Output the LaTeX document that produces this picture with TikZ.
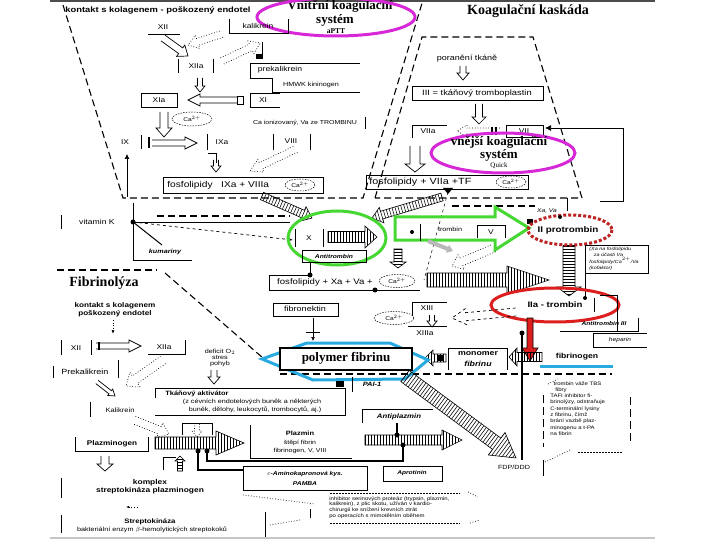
\documentclass[tikz,border=0pt]{standalone}
\usepackage{fontspec}
\setmainfont{Liberation Sans}[FakeStretch=1.2]
\newfontfamily\srf{Liberation Serif}
\usetikzlibrary{shapes.geometric,arrows.meta}
\definecolor{mag}{RGB}{215,40,215}
\definecolor{grn}{RGB}{70,215,50}
\definecolor{drd}{RGB}{190,35,35}
\definecolor{rd}{RGB}{220,30,30}
\definecolor{cy}{RGB}{40,170,225}
\newcommand\myfs[1]{\fontsize{#1}{#1}\selectfont}
% hollow arrow: [opts]{x1}{y1}{x2}{y2}{body width}{head length}
\newcommand\HA[7][]{%
 \pgfmathsetmacro\hlen{veclen(#4-#2,#5-#3)}%
 \pgfmathsetmacro\hang{atan2(#3-#5,#4-#2)}%
 \pgfmathsetmacro\hb{\hlen-#7}%
 \pgfmathsetmacro\hw{#6/2}%
 \draw[line width=0.7pt,#1,shift={(#2,#3)},rotate=\hang] (0,-\hw) -- (\hb,-\hw) -- (\hb,-#6) -- (\hlen,0) -- (\hb,#6) -- (\hb,\hw) -- (0,\hw);}
% hatched arrow
\newcommand\HH[7][]{%
 \pgfmathsetmacro\hlen{veclen(#4-#2,#5-#3)}%
 \pgfmathsetmacro\hang{atan2(#3-#5,#4-#2)}%
 \pgfmathsetmacro\hb{\hlen-#7}%
 \pgfmathsetmacro\hw{#6/2}%
 \begin{scope}[shift={(#2,#3)},rotate=\hang]
 \clip (0,-\hw) -- (\hb,-\hw) -- (\hb,-#6) -- (\hlen,0) -- (\hb,#6) -- (\hb,\hw) -- (0,\hw) -- cycle;
 \foreach \i in {0,3,...,\hlen} {\draw[line width=0.55pt] (\i,-#6) -- (\i,#6);}
 \end{scope}
 \draw[line width=0.6pt,#1,shift={(#2,#3)},rotate=\hang] (0,-\hw) -- (\hb,-\hw) -- (\hb,-#6) -- (\hlen,0) -- (\hb,#6) -- (\hb,\hw) -- (0,\hw) -- cycle;}
\begin{document}
\begin{tikzpicture}[x=1pt,y=-1pt,line width=0.7pt,
  t/.style={inner sep=0pt,font=\myfs{7}},
  tb/.style={inner sep=0pt,font=\myfs{7}\bfseries},
  ti/.style={inner sep=0pt,font=\myfs{6.5}\bfseries\itshape},
  ts/.style={inner sep=0pt,font=\fontsize{5}{6.3}\selectfont,align=left},
  big/.style={inner sep=0pt,font=\srf\myfs{13}\bfseries},
  ce/.style={ellipse,draw,dash pattern=on 1.5pt off 1.2pt,line width=0.5pt,inner sep=0pt,font=\myfs{5.5}},
  dsh/.style={line width=1.1pt,dash pattern=on 7pt off 4pt},
  dot/.style={circle,fill,inner sep=0pt,minimum size=5pt}]
\useasboundingbox (0,0) rectangle (720,540);
\draw[gray!60!black,line width=1.5pt] (50,0.8) -- (655,0.8);
\draw[gray!45,line width=1.5pt] (50,538) -- (655,538);

% ---------- dashed frames
\draw[dsh] (63,5) -- (123,198) -- (363,198) -- (423,0);
\draw[dsh] (375,198) -- (422,37) -- (533,37) -- (582,198) -- cycle;
\draw[dsh] (157,216) -- (290,216);
\draw[dsh] (452,206) -- (535,206);
\draw[dsh] (57,270) -- (157,270);
\draw[dsh] (165,273) -- (263,358);
\draw[dsh] (280,374) -- (612,374);

% ---------- intrinsic system
\node[tb,font=\myfs{7.8}\bfseries] (kont) at (158,10) {kontakt s kolagenem - poškozený endotel};
\node[big] (vks1) at (340,6) {Vnitřní koagulační};
\node[big] (vks2) at (335,20) {systém};
\node[tb,font=\srf\myfs{7.5}\bfseries] (aptt) at (336,31) {aPTT};
\draw[mag,line width=3pt] (336,17) ellipse [x radius=79,y radius=19];
\node[big,font=\srf\myfs{14}\bfseries] (kk) at (528,11) {Koagulační kaskáda};

\node[t] (xii) at (163,27) {XII};
\draw (148,34) -- (180,34);
\node[t] (kal) at (258,26) {kalikrein};
\draw (229,19) -- (229,33) -- (288,33) -- (288,19);
\HA{163}{38}{188}{56}{7}{9}
\HA[dotted]{222}{34}{188}{45}{7}{10}
\HA[dotted]{222}{61}{260}{43}{7}{10}
\draw[line width=1pt] (262,42) -- (262,56);
\fill (256,54) rectangle (263,59);
\node[t] (xiia) at (196,66) {XIIa};
\draw (178,59) -- (178,73) (213,59) -- (213,73);
\node[t,font=\myfs{7.2}] (prek) at (280,70) {prekalikrein};
\draw (360,63) -- (250,63) -- (250,78) -- (272,78) -- (272,92) -- (360,92);
\node[t,font=\myfs{6}] (hmwk) at (311,85) {HMWK kininogen};
\node[t] (xi) at (263,100) {XI};
\draw (280,93) -- (250,93) -- (250,107) -- (280,107);
\draw (141,93) rectangle (177,107);
\node[t] (xia) at (159,100) {XIa};
\HA{237}{100}{188}{100}{6}{12}
\draw (237,96) rectangle (243,104);
\HA{200}{78}{200}{92}{5}{6}
\HA{164}{112}{164}{137}{8}{9}
\node[ce,minimum width=40pt,minimum height=14pt] (ca1) at (192,119) {Ca$^{2+}$};
\node[t,font=\myfs{5.8}] (caion) at (305,123) {Ca ionizovaný, Va ze TROMBINU};
\draw (365,117) -- (365,129);
\node[t] (ix) at (125,142) {IX};
\draw (141,135) -- (141,149);
\draw[line width=2pt] (149,137) -- (149,148);
\HA{152}{143}{197}{143}{6}{12}
\node[t] (ixa) at (222,142) {IXa};
\draw (207,134) -- (207,150) (273,134) -- (273,150);
\node[t] (viii) at (291,141) {VIII};
\draw (310,134) -- (310,150);
\HA[dotted]{296}{149}{250}{171}{7}{12}
\draw (208,153) -- (216,153) -- (216,163);
\HA{216}{160}{216}{172}{5}{6}
\draw[-{Latex[length=5pt,width=5pt]}] (127,197) -- (127,154);
\draw (163,177) rectangle (323,193);
\node[t,font=\myfs{8.5},anchor=west] (fos1) at (167,185) {fosfolipidy \ \ IXa + VIIIa};
\node[ce,minimum width=30pt,minimum height=12pt] (ca2) at (300,185) {Ca$^{2+}$};

% ---------- extrinsic system
\node[t,font=\myfs{7.5}] (por) at (467,59) {poranění tkáně};
\HA{463}{66}{463}{80}{6}{7}
\draw (412,86) rectangle (543,100);
\node[t,font=\myfs{7.8}] (iii) at (477,93) {III = tkáňový tromboplastin};
\HA{479}{104}{479}{124}{7}{7}
\node[t] (viia) at (428,131) {VIIa};
\draw (447,125) -- (412,125) -- (412,138);
\draw (506,125) rectangle (543,137);
\node[t] (vii) at (524,131) {VII};
\HA[dotted]{500}{131}{457}{131}{6}{10}
\draw[line width=1.2pt] (492,127) -- (492,135) (496,127) -- (496,135);
\draw[-{Latex[length=6pt,width=6pt]}] (600,201) -- (623,201) -- (623,128) -- (545,128);
\HA{415}{146}{415}{172}{10}{8}
\draw (366,175) rectangle (528,189);
\node[t,font=\myfs{9},anchor=west] (fos2) at (369,182) {fosfolipidy + VIIa +TF};
\node[ce,minimum width=30pt,minimum height=12pt] (ca3) at (511,182) {Ca$^{2+}$};
\fill (443,188) -- (453,188) -- (448,194) -- cycle;
\draw[mag,line width=3pt] (503,153) ellipse [x radius=72,y radius=20];
\node[big] (vns1) at (499,142) {vnější koagulační};
\node[big] (vns2) at (499,155) {systém};
\node[t,font=\srf\myfs{7}] (quick) at (499,166) {Quick};

% ---------- common pathway
\node[t,font=\myfs{7.2}] (vitk) at (97,222) {vitamin K};
\draw (61,215) -- (61,229);
\draw (133,203) -- (133,260) -- (192,260);
\draw (133,222) -- (290,222);
\draw[dashed,-{Latex[length=5pt]}] (133,222) -- (293,240);
\draw[line width=1pt] (133,222) -- (162,245);
\node[dot] (dk) at (133,222) {};
\node[ti,font=\myfs{6}\bfseries\itshape] (kum) at (165,252) {kumariny};
\HH{262}{196}{312}{218}{8}{10}
\HH{442}{197}{372}{218}{8}{10}
\node[t,font=\myfs{7}] (x) at (309,238) {X};
\draw (295,229) -- (295,247) (323,229) -- (323,247);
\HH{328}{237}{377}{237}{11}{12}
\draw[grn,line width=3pt] (337,238) ellipse [x radius=49,y radius=27];
\draw (302,250) rectangle (366,262);
\node[ti,font=\myfs{5.6}\bfseries\itshape] (at1) at (334,256) {Antitrombin};
\draw (310,262) -- (310,275);
\node[dot] (d2) at (310,275) {};
\draw (310,275) -- (269,275) -- (269,290) -- (420,290);
\node[t,font=\myfs{8}] (fos3) at (325,282) {fosfolipidy + Xa + Va +};
\node[ce,minimum width=36pt,minimum height=13pt] (ca4) at (397,281) {Ca$^{2+}$};
\node[dot] (d3) at (375,290) {};
\HH{398}{249}{398}{268}{8}{6}
\draw[dashed,line width=0.5pt] (448,192) -- (424,280);
\draw[grn,line width=3pt] (395,217) -- (495,217) -- (495,207) -- (529,228) -- (495,250) -- (495,240) -- (395,240) -- cycle;
\node[dot,minimum size=4pt] (d4) at (412,232) {};
\draw (420,224) -- (420,241);
\node[t,font=\myfs{6}] (trb) at (450,229) {trombin};
\draw (477,225) -- (477,238) (477,225) -- (505,225) -- (505,238);
\node[t,font=\myfs{7}] (v) at (491,232) {V};
\draw[gray!55,line width=4pt,-{Triangle[length=6pt,width=8pt]}] (428,241) -- (453,251);
\HA[dotted]{494}{248}{452}{266}{8}{10}

\node[ts,font=\itshape\fontsize{5.5}{6}\selectfont] (xava) at (547,211) {Xa, Va};
\draw (567,198) -- (567,211);
\fill (527,219) rectangle (533,224);
\HH{569}{246}{569}{296}{12}{9}
\draw[line width=2pt] (563,246) -- (575,246);
\draw[drd,line width=3pt,dash pattern=on 3pt off 2pt] (570,230) ellipse [x radius=42,y radius=15];
\node[tb,font=\myfs{8.2}\bfseries] (ii) at (568,230) {II protrombin};
\node[dot,minimum size=4pt] (d5) at (560,217) {};
\draw (585,245) -- (648,245) -- (648,273) -- (585,273);
\draw (585,245) -- (585,298);
\node[ts,font=\itshape\fontsize{4.5}{6.2}\selectfont,anchor=north west] (pt) at (589,247) {(Xa na fosfolipidu\\\ \ \ za účasti Va\\fosfolipidy/Ca$^{2+}$/Va\\(kofaktor)};
\HH{427}{280}{549}{280}{14}{42}
\draw[rd,line width=3pt] (555,305) ellipse [x radius=64,y radius=17];
\node[tb,font=\myfs{8}\bfseries] (iia) at (555,305) {IIa - trombin};
\node[dot,minimum size=4pt] (d6) at (585,298) {};
\draw (594,298) -- (594,312);
\draw (600,295) -- (617,295) -- (617,331);
\draw (560,331) -- (638,331) -- (638,318);
\node[ti,font=\myfs{5.5}\bfseries\itshape] (at3) at (604,324) {Antitrombin III};
\draw (593,347) -- (593,333) -- (647,333) (593,347) -- (647,347);
\node[ti,font=\myfs{5.5}\itshape] (hep) at (620,340) {heparin};
\draw[line width=1.5pt] (522,332) -- (522,460);
\node[dot] (d7) at (522,333) {};
\draw[fill=rd,line width=0.6pt] (527,318) -- (533,318) -- (533,348) -- (538,348) -- (530,361) -- (522,348) -- (527,348) -- cycle;
\node[tb,font=\myfs{7.2}\bfseries] (fbg) at (577,357) {fibrinogen};
\draw[cy,line width=3pt] (540,366) -- (613,366);
\HH{542}{357}{509}{357}{9}{8}

\node[t] (xiii) at (427,308) {XIII};
\draw (412,302) -- (447,302) (412,302) -- (412,316);
\HA{432}{315}{432}{327}{5}{6}
\draw (408,326) -- (447,326);
\node[t] (xiiia) at (425,333) {XIIIa};
\node[ce,minimum width=40pt,minimum height=13pt] (ca5) at (394,318) {Ca$^{2+}$};
\HA[dashed]{516}{312}{452}{318}{8}{14}
\draw (273,303) rectangle (338,316);
\node[t,font=\myfs{7.5}] (fbn) at (305,309) {fibronektin};
\draw (313,318) -- (313,332);
\draw[-{Latex[length=4pt,width=4pt]}] (306,332) -- (320,332) (313,332) -- (313,341);

\draw (448,370) -- (448,348) -- (507,348) -- (507,370);
\node[tb,font=\myfs{7.3}\bfseries] (mon1) at (478,354) {monomer};
\node[ti,font=\myfs{7.3}\bfseries\itshape] (mon2) at (478,364) {fibrinu};
\HH{446}{358}{425}{358}{8}{8}
\fill (437,355) rectangle (443,361);

\draw[cy,line width=3pt] (262,359) -- (307,343) -- (390,343) -- (428,360) -- (405,379) -- (313,380) -- cycle;
\draw[line width=1.2pt,fill=white] (280,348) rectangle (412,370);
\node[big] (poly) at (346,358) {polymer fibrinu};

% ---------- fibrinolysis
\node[big,font=\srf\myfs{14}\bfseries] (fl) at (104,283) {Fibrinolýza};
\node[tb,font=\myfs{6.8}\bfseries] (k2a) at (115,306) {kontakt s kolagenem};
\node[tb,font=\myfs{6.8}\bfseries] (k2b) at (115,314) {poškozený endotel};
\draw[dotted,-{Latex[length=4pt]}] (113,320) -- (113,334);
\node[t] (xii2) at (76,348) {XII};
\draw (61,340) -- (61,355) (91,340) -- (91,355);
\HA{96}{346}{141}{346}{6}{12}
\draw[line width=1.5pt] (99,342) -- (99,350);
\node[t] (xiia2) at (164,347) {XIIa};
\draw (148,354) -- (185,354) (185,340) -- (185,355);
\node[t,font=\myfs{6}] (def) at (220,358) {\begin{tabular}{@{}c@{}}deficit O$_2$\\stres\\pohyb\end{tabular}};
\HA{214}{370}{214}{384}{6}{7}
\node[t,font=\myfs{7.5}] (prk2) at (85,372) {Prekalikrein};
\draw (53,366) -- (53,378) (118,360) -- (118,378);
\HA[dotted]{163}{360}{126}{386}{9}{11}
\HA{97}{382}{115}{396}{4}{6}
\node[t,font=\myfs{6.3}] (kal2) at (120,410) {Kalikrein};
\draw (90,402) -- (90,417);
\HA[dotted]{134}{420}{169}{434}{8}{10}
\draw (155,388) -- (345,388) -- (345,415) -- (155,415) (155,388) -- (155,398);
\node[tb,font=\myfs{6.2}\bfseries,anchor=west] (tpa) at (165,394) {Tkáňový aktivátor};
\node[t,font=\myfs{6}] (tpa2) at (252,402) {(z cévních endotelových buněk a některých};
\node[t,font=\myfs{6}] (tpa3) at (255,410) {buněk, dělohy, leukocytů, trombocytů, aj.)};
\draw (75,437) -- (75,451) -- (148,451) -- (148,437);
\node[tb,font=\myfs{6.8}\bfseries] (plg) at (112,444) {Plazminogen};
\HA{105}{456}{105}{471}{8}{7}
\HH{155}{443}{244}{443}{12}{28}
\draw (182,435) -- (182,423) -- (212,423) -- (212,435);
\HA[dotted]{197}{424}{197}{437}{5}{6}
\draw (163,470) -- (163,457) -- (176,457);
\HH{180}{471}{180}{456}{5}{5}
\draw[line width=1.4pt] (198,451) -- (198,470) -- (243,470);
\draw[line width=1.4pt] (207,451) -- (207,461) -- (403,461) -- (403,445);
\node[dot] (d8) at (198,451) {};
\node[dot] (d9) at (207,451) {};
\draw (250,425) -- (250,458) -- (352,458);
\node[tb,font=\myfs{6.2}\bfseries] (pla) at (300,433) {Plazmin};
\node[t,font=\myfs{5.8}] (pla2) at (300,443) {štěpí fibrin};
\node[t,font=\myfs{5.8}] (pla3) at (300,451) {fibrinogen, V, VIII};
\draw (243,466) rectangle (367,490);
\node[ti,font=\myfs{5.6}\bfseries\itshape] (eak) at (305,474) {$\varepsilon$-Aminokapronová kys.};
\node[ti,font=\myfs{5.6}\bfseries\itshape] (pamba) at (305,484) {PAMBA};
\draw (362,423) -- (362,409) -- (433,409);
\node[ti,font=\myfs{6.5}\bfseries\itshape] (apl) at (399,417) {Antiplazmin};
\draw[line width=1.2pt] (397,423) -- (397,435);
\HH{365}{440}{462}{440}{10}{20}
\node[dot] (d10) at (397,435) {};
\node[dot] (d11) at (403,445) {};
\draw (383,466) rectangle (442,481);
\node[ti,font=\myfs{5.5}\bfseries\itshape] (apr) at (412,473) {Aprotinin};
\HH{405}{376}{516}{458}{14}{24}
\node[t,font=\myfs{6}] (fdp) at (514,467) {FDP/DDD};
\draw (543,460) -- (543,476);
\node[ti,font=\myfs{6.2}\bfseries\itshape] (pai) at (372,384) {PAI-1};
\fill (336,381) rectangle (344,387);
\draw (352,377) -- (352,392);

% right note
\node[ts,anchor=north west] (note) at (550,381) {\ \ trombin váže TBS\\\ \ \ fibry\\TAFI inhibitor fi-\\brinolýzy, odstraňuje\\C-terminální lysiny\\z fibrinu, čímž\\brání vazbě plaz-\\minogenu a t-PA\\na fibrin};
\draw[dash pattern=on 8pt off 4pt,line width=0.6pt] (543,395) -- (543,447);
\draw[dash pattern=on 8pt off 4pt,line width=0.6pt] (630,397) -- (630,443);
\draw[dotted] (548,384) -- (558,379);
\draw[dash pattern=on 2pt off 1pt,line width=0.5pt] (578,452) -- (622,452);
\draw[dotted] (545,462) -- (570,450);

% bottom note
\draw[dash pattern=on 2pt off 1pt,line width=0.5pt] (330,493) -- (460,493);
\draw[dash pattern=on 2pt off 1pt,line width=0.5pt] (330,523) -- (460,523);
\node[ts,anchor=north west,font=\fontsize{5}{5.8}\selectfont] (apnote) at (329,496) {inhibitor serinových proteáz (trypsin, plazmin,\\kalikrein), z plic skotu, užíván v kardio-\\chirurgii ke snížení krevních ztrát\\po operacích s mimotělním oběhem};
\draw (310,509) -- (310,518);
\draw[dotted] (243,495) -- (315,504);
\draw[dotted] (270,525) -- (300,520);
\draw[dotted] (468,492) -- (478,497);
\draw[dotted] (470,523) -- (480,520);

\node[tb,font=\myfs{7}\bfseries] (kpx1) at (150,483) {komplex};
\node[tb,font=\myfs{7}\bfseries] (kpx2) at (150,491) {streptokináza plazminogen};
\draw (61,478) -- (61,498);
\draw[dotted,{Latex[length=3pt]}-] (126,507) -- (138,507);
\node[tb,font=\myfs{6.5}\bfseries] (stk1) at (150,522) {Streptokináza};
\node[t,font=\myfs{6}] (stk2) at (152,530) {bakteriální enzym $\beta$-hemolytických streptokoků};
\draw (61,515) -- (61,533);
\draw (265,512) -- (265,537);
\end{tikzpicture}
\end{document}
